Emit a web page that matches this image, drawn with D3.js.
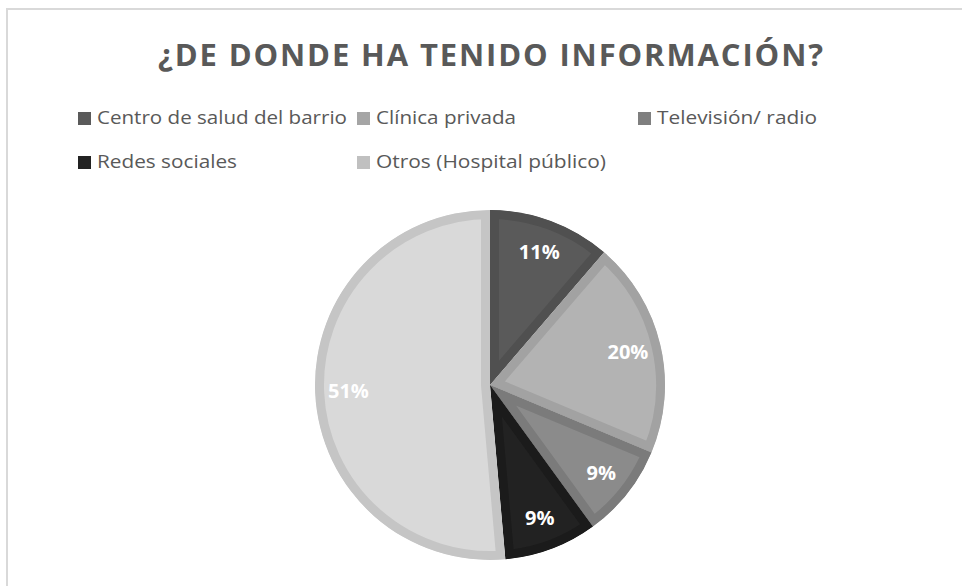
<!DOCTYPE html>
<html lang="es">
<head>
  <meta charset="UTF-8">
  <title>¿De donde ha tenido información?</title>
  <script src="https://d3js.org/d3.v7.min.js"></script>
  <style>
    body { margin: 0; background: #fff; font-family: "Open Sans", sans-serif; }
    svg { display: block; }
  </style>
</head>
<body>
  <svg id="chart" width="962" height="586"></svg>
  <script>
    // data (share of answers, %)
    const categories = ["Centro de salud del barrio", "Clínica privada", "Televisión/ radio", "Redes sociales", "Otros (Hospital público)"];
    const values = [11.3, 20.0, 8.7, 8.6, 51.4];
    const fills = ["#5a5a5a", "#b3b3b3", "#8b8b8b", "#222222", "#d9d9d9"];
    const borders = ["#505050", "#a2a2a2", "#7b7b7b", "#1b1b1b", "#c5c5c5"];
    const legendSwatch = ["#5a5a5a", "#a5a5a5", "#7f7f7f", "#222222", "#c0c0c0"];
    // widths the legend labels take in the original
    const legendWidths = [250, 140, 160, 140, 230];

    const svg = d3.select("#chart");
    const width = 962, height = 586;

    // chart area border (runs off the right/bottom of the window)
    svg.append("rect")
      .attr("x", 7).attr("y", 9)
      .attr("width", width + 20).attr("height", height + 20)
      .attr("fill", "none")
      .attr("stroke", "#d9d9d9")
      .attr("stroke-width", 2);

    // title
    svg.append("text")
      .attr("x", 158).attr("y", 66)
      .attr("textLength", 665)
      .attr("lengthAdjust", "spacing")
      .style("font-size", "31px")
      .style("font-weight", "bold")
      .style("fill", "#595959")
      .text("¿DE DONDE HA TENIDO INFORMACIÓN?");

    // legend
    const legendPos = [[78, 124], [357, 124], [638, 124], [78, 168], [357, 168]];
    const legend = svg.append("g");
    categories.forEach((c, i) => {
      const [lx, ly] = legendPos[i];
      legend.append("rect")
        .attr("x", lx).attr("y", ly - 12)
        .attr("width", 13).attr("height", 13)
        .attr("fill", legendSwatch[i]);
      legend.append("text")
        .attr("x", lx + 19).attr("y", ly)
        .attr("textLength", legendWidths[i])
        .attr("lengthAdjust", "spacingAndGlyphs")
        .style("font-size", "18px")
        .style("fill", "#595959")
        .text(c);
    });

    // pie
    const cx = 490, cy = 385, r = 175, border = 9;
    const pie = d3.pie().sort(null).value(d => d);
    const arcs = pie(values);
    const arc = d3.arc().innerRadius(0).outerRadius(r);
    const labelArc = d3.arc().innerRadius(r * 0.81).outerRadius(r * 0.81);
    const fmt = d3.format(".0%");

    const g = svg.append("g").attr("transform", `translate(${cx},${cy})`);
    const defs = svg.append("defs");

    arcs.forEach((a, i) => {
      defs.append("clipPath").attr("id", "slice" + i)
        .append("path").attr("d", arc(a));
    });

    g.selectAll("path.slice")
      .data(arcs)
      .enter().append("path")
      .attr("class", "slice")
      .attr("d", arc)
      .attr("clip-path", (d, i) => `url(#slice${i})`)
      .attr("fill", (d, i) => fills[i])
      .attr("stroke", (d, i) => borders[i])
      .attr("stroke-width", border * 2)
      .attr("stroke-linejoin", "miter");

    g.selectAll("text.lbl")
      .data(arcs)
      .enter().append("text")
      .attr("class", "lbl")
      .attr("transform", d => `translate(${labelArc.centroid(d)})`)
      .attr("text-anchor", "middle")
      .attr("dy", "0.35em")
      .style("font-size", "20px")
      .style("font-weight", "bold")
      .style("fill", "#fff")
      .text(d => fmt(Math.round(d.value) / 100));
  </script>
</body>
</html>
